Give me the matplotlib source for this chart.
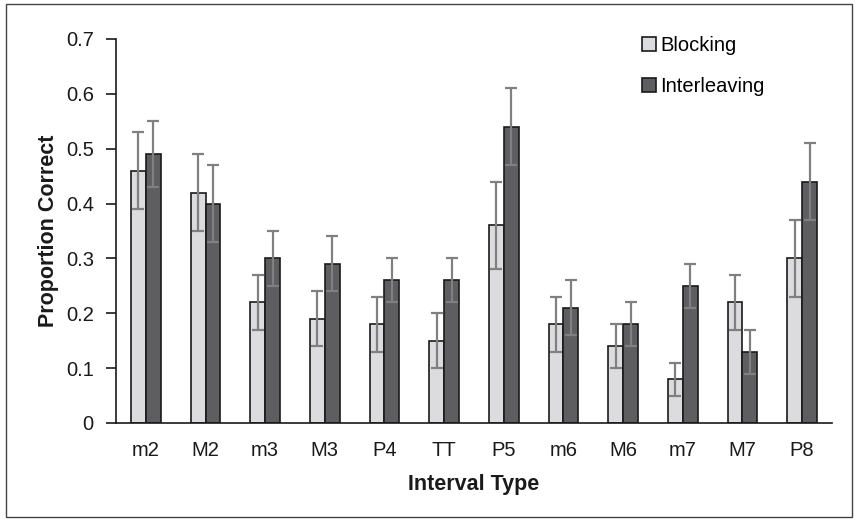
import matplotlib.pyplot as plt
import numpy as np

plt.rcParams['font.family'] = ['Liberation Sans', 'DejaVu Sans']

intervals = ['m2', 'M2', 'm3', 'M3', 'P4', 'TT', 'P5', 'm6', 'M6', 'm7', 'M7', 'P8']
blocking = [0.46, 0.42, 0.22, 0.19, 0.18, 0.15, 0.36, 0.18, 0.14, 0.08, 0.22, 0.30]
blocking_err = [0.07, 0.07, 0.05, 0.05, 0.05, 0.05, 0.08, 0.05, 0.04, 0.03, 0.05, 0.07]
interleaving = [0.49, 0.40, 0.30, 0.29, 0.26, 0.26, 0.54, 0.21, 0.18, 0.25, 0.13, 0.44]
interleaving_err = [0.06, 0.07, 0.05, 0.05, 0.04, 0.04, 0.07, 0.05, 0.04, 0.04, 0.04, 0.07]

fig = plt.figure(figsize=(8.55, 5.19), dpi=100)
ax = fig.add_axes([0.1357, 0.185, 0.8373, 0.74])

x = np.arange(len(intervals))
w = 0.25
err_kw = dict(ecolor='#808080', elinewidth=1.6, capsize=4, capthick=1.6)
ax.bar(x - w/2, blocking, w, yerr=blocking_err, color='#dcdcde',
       edgecolor='#1a1a1a', linewidth=1.2, error_kw=err_kw, label='Blocking')
ax.bar(x + w/2, interleaving, w, yerr=interleaving_err, color='#5e5e60',
       edgecolor='#1a1a1a', linewidth=1.2, error_kw=err_kw, label='Interleaving')

ax.set_xlim(-0.5, len(intervals) - 0.5)
ax.set_ylim(0, 0.7)
ax.set_yticks(np.arange(0, 0.71, 0.1))
ax.set_yticklabels(['0', '0.1', '0.2', '0.3', '0.4', '0.5', '0.6', '0.7'])
ax.set_xticks(x)
ax.set_xticklabels(intervals)
ax.tick_params(axis='x', length=0, pad=13, labelsize=14.5, colors='#1a1a1a')
ax.tick_params(axis='y', length=7, width=1.2, pad=9, labelsize=14.5, colors='#1a1a1a')

for s in ['top', 'right']:
    ax.spines[s].set_visible(False)
ax.spines['left'].set_linewidth(1.2)
ax.spines['bottom'].set_linewidth(1.2)
ax.spines['left'].set_color('#1a1a1a')
ax.spines['bottom'].set_color('#1a1a1a')

ax.set_xlabel('Interval Type', fontsize=15.5, fontweight='bold', labelpad=10, color='#1a1a1a')
ax.set_ylabel('Proportion Correct', fontsize=15.5, fontweight='bold', labelpad=5, color='#1a1a1a')

ax.legend(loc='upper left', bbox_to_anchor=(0.71, 1.055), frameon=False, fontsize=14.5,
          handlelength=0.65, handleheight=0.65, handletextpad=0.25, labelspacing=1.1)

fig.patches.append(plt.Rectangle((0.007, 0.003), 0.99, 0.99, transform=fig.transFigure,
                                 fill=False, edgecolor='#444444', linewidth=1.0))

fig.savefig('out.png', dpi=100)
